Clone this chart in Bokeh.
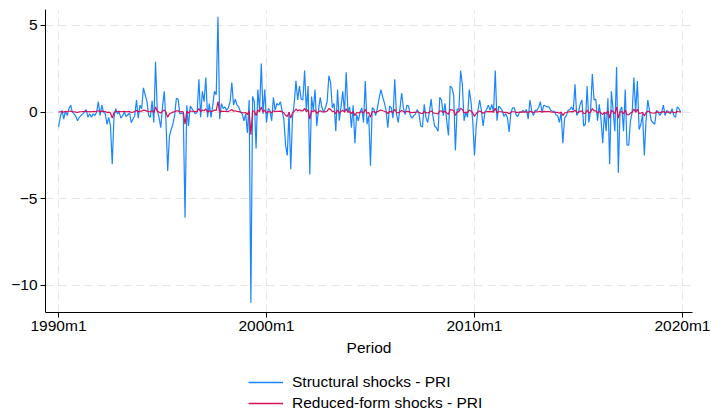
from bokeh.plotting import figure
from bokeh.models import Range1d, FixedTicker, Legend, LegendItem
from bokeh.layouts import column
from bokeh.embed import file_html
from bokeh.resources import INLINE

# Monthly shocks, 1990m1 .. 2019m12 (one row per year)
structural = [
    -0.85, -0.3, 0.1, -0.4, 0.05, -0.2, 0.2, 0.4, 0.0, -0.1, -0.25, -0.5,      # 1990
    -0.3, -0.2, -0.1, 0.0, 0.15, -0.3, -0.1, -0.3, -0.1, -0.2, 0.0, 0.6,       # 1991
    -0.2, 0.4, 0.0, -0.1, -0.7, -0.3, -0.8, -3.0, -0.3, 0.2, -0.1, 0.0,        # 1992
    -0.35, -0.2, 0.0, -0.25, -0.15, -0.05, -0.6, -0.4, -0.2, 0.7, -0.35, 0.4,  # 1993
    0.2, 1.4, 1.0, 0.65, -0.2, -0.3, 0.65, -0.6, 2.9, 0.1, -0.3, -0.9,         # 1994
    0.3, 1.2, -0.5, -3.4, -1.4, -1.0, -0.7, -0.2, 0.8, 0.75, -0.1, -0.05,      # 1995
    -0.1, -6.1, 0.4, -0.8, 0.35, 0.2, 0.05, -0.1, 0.0, 1.9, -0.3, 1.2,         # 1996
    0.6, 2.0, -0.3, 0.5, -0.3, 0.4, 1.2, 1.0, 5.5, -0.4, 0.5, 0.2,             # 1997
    0.3, 0.1, 0.25, 0.6, 1.7, 0.4, 0.75, 0.4, 0.3, 0.0, -0.1, -0.5,            # 1998
    -0.1, -1.2, 0.7, -11.0, 0.9, 0.6, -2.1, 1.3, 0.1, 2.8, -0.1, 1.3,          # 1999
    -0.6, 0.2, 0.1, -0.5, 0.85, 0.1, 0.5, 0.4, 0.6, 0.1, -0.4, -1.9,           # 2000
    -2.5, 0.0, -3.3, -0.3, 0.5, 1.8, 0.7, 1.5, 0.75, 0.7, 2.4, 0.1,            # 2001
    1.5, -3.6, 0.9, 0.1, 1.3, -0.8, 0.1, 0.85, 0.25, 0.0, 0.25, 0.6,           # 2002
    2.1, 1.7, 0.25, 0.5, -1.1, 1.3, -0.5, 0.3, 1.2, 0.0, 2.3, 0.0,             # 2003
    0.3, -0.9, 0.4, -1.8, -0.15, -0.5, 0.0, 0.25, -0.6, 1.8, -0.7, -0.2,       # 2004
    -3.1, 0.25, 0.15, -0.2, 0.25, 0.8, 1.3, 0.9, 0.55, 0.1, -0.9, 0.35,        # 2005
    0.25, -0.35, 1.9, -0.1, -0.6, 0.2, 1.1, 0.25, -0.15, 0.4, 0.35, -0.2,      # 2006
    -0.35, -0.2, -0.1, 0.15, -0.1, -0.8, -0.85, 0.45, -0.3, -0.6, 0.0, 0.75,   # 2007
    -0.2, -0.8, -0.9, -1.1, 0.85, 0.7, -0.2, 0.5, -0.5, -1.35, 1.5, 1.4,       # 2008
    1.0, -2.2, 0.2, 0.1, 2.4, 1.6, -0.5, 0.0, -0.3, 1.3, 0.6, -0.5,            # 2009
    -2.5, -0.8, 0.1, 0.7, 0.1, -0.8, 0.0, 0.15, 0.4, 0.1, 0.45, 0.0,           # 2010
    2.4, -0.5, 0.35, 0.25, 0.1, -0.25, -0.1, -0.3, -1.15, -0.05, 0.25, 0.25,   # 2011
    -0.15, -0.25, 0.0, 0.0, 0.1, 0.0, 0.15, -0.4, 0.7, 0.1, -0.2, 0.1,         # 2012
    0.1, 0.25, 0.6, 0.0, 0.4, 0.35, 0.3, 0.3, 0.1, 0.05, 0.05, -0.15,          # 2013
    -0.2, -0.6, 0.0, -1.8, -0.35, -0.2, 0.1, 0.15, 0.3, 0.1, 1.6, -0.2,        # 2014
    0.0, 0.45, 0.7, -0.8, -0.7, 1.5, -0.6, 0.1, 2.2, 0.7, 0.75, -0.5,          # 2015
    0.45, -0.4, -1.8, 0.0, -1.1, 0.8, -3.0, 1.2, 0.1, -1.1, 2.6, -3.5,         # 2016
    0.1, 0.3, -1.1, 1.3, -1.9, -1.9, -0.5, 0.0, 2.0, 0.0, 1.8, -1.0,           # 2017
    -0.7, -0.1, -2.5, -0.5, 0.7, 0.1, -0.5, -0.6, -0.7, 0.1, 0.0, -0.2,        # 2018
    0.0, 0.4, -0.2, 0.1, 0.0, -0.1, 0.2, -0.2, -0.3, 0.3, 0.2, 0.0,            # 2019
]

reduced_form = [
    0.0, 0.02, 0.03, 0.0, 0.04, 0.02, 0.05, 0.06, 0.03, 0.02, 0.0, -0.02,        # 1990
    0.01, 0.02, 0.03, 0.04, 0.05, 0.02, 0.03, 0.02, 0.04, 0.03, 0.05, 0.08,      # 1991
    0.03, 0.06, 0.04, 0.03, -0.02, 0.0, -0.05, -0.35, -0.05, 0.05, 0.03, 0.04,   # 1992
    0.02, 0.03, 0.04, 0.02, 0.03, 0.04, -0.02, 0.0, 0.03, 0.1, 0.02, 0.06,       # 1993
    0.05, 0.12, 0.1, 0.06, 0.03, 0.02, 0.08, -0.02, 0.3, 0.05, 0.0, -0.05,       # 1994
    0.06, 0.12, 0.0, -0.3, -0.1, -0.05, 0.0, 0.03, 0.08, 0.07, 0.02, 0.03,       # 1995
    0.02, -0.7, 0.05, -0.05, 0.06, 0.05, 0.04, 0.03, 0.04, 0.2, 0.02, 0.12,      # 1996
    0.08, 0.18, 0.0, 0.07, 0.02, 0.06, 0.12, 0.1, 0.6, 0.0, 0.06, 0.04,          # 1997
    0.05, 0.03, 0.04, 0.08, 0.15, 0.05, 0.08, 0.04, 0.03, 0.0, -0.02, -0.05,     # 1998
    -0.02, -0.15, 0.06, -1.3, 0.08, 0.05, -0.2, 0.12, 0.02, 0.3, 0.0, 0.12,      # 1999
    -0.06, 0.03, 0.02, -0.05, 0.08, 0.02, 0.05, 0.04, 0.06, 0.02, -0.04, -0.18,  # 2000
    -0.25, 0.0, -0.35, -0.04, 0.05, 0.18, 0.07, 0.14, 0.07, 0.07, 0.22, 0.02,    # 2001
    0.14, -0.4, 0.09, 0.02, 0.12, -0.08, 0.02, 0.08, 0.03, 0.01, 0.03, 0.06,     # 2002
    0.2, 0.16, 0.03, 0.05, -0.1, 0.12, -0.05, 0.03, 0.11, 0.0, 0.2, 0.0,         # 2003
    0.03, -0.08, 0.04, -0.2, -0.02, -0.05, 0.0, 0.03, -0.06, 0.16, -0.07, -0.02, # 2004
    -0.3, 0.03, 0.02, -0.02, 0.03, 0.07, 0.12, 0.08, 0.05, 0.01, -0.08, 0.04,    # 2005
    0.03, -0.03, 0.17, -0.01, -0.05, 0.02, 0.1, 0.03, -0.01, 0.04, 0.03, -0.02,  # 2006
    -0.03, -0.02, -0.01, 0.02, -0.01, -0.07, -0.08, 0.04, -0.03, -0.05, 0.0, 0.07,  # 2007
    -0.02, -0.07, -0.08, -0.1, 0.08, 0.06, -0.02, 0.05, -0.05, -0.12, 0.14, 0.13,   # 2008
    0.09, -0.2, 0.02, 0.01, 0.22, 0.15, -0.05, 0.0, -0.03, 0.12, 0.06, -0.05,    # 2009
    -0.25, -0.08, 0.01, 0.06, 0.01, -0.07, 0.0, 0.02, 0.04, 0.01, 0.04, 0.0,     # 2010
    0.22, -0.05, 0.03, 0.02, 0.01, -0.02, -0.01, -0.03, -0.1, 0.0, 0.02, 0.02,   # 2011
    -0.01, -0.02, 0.0, 0.0, 0.01, 0.0, 0.02, -0.04, 0.06, 0.01, -0.02, 0.01,     # 2012
    0.01, 0.02, 0.05, 0.0, 0.04, 0.03, 0.03, 0.03, 0.01, 0.0, 0.0, -0.01,        # 2013
    -0.02, -0.06, 0.0, -0.2, -0.04, -0.02, 0.01, 0.02, 0.03, 0.01, 0.12, -0.02,  # 2014
    0.0, 0.04, 0.07, -0.08, -0.07, 0.12, -0.06, 0.01, 0.2, 0.07, 0.07, -0.05,    # 2015
    0.04, -0.04, -0.15, 0.0, -0.1, 0.07, -0.35, 0.12, 0.01, -0.1, 0.3, -0.35,    # 2016
    0.02, 0.03, -0.1, 0.12, -0.15, -0.16, -0.05, 0.0, 0.18, 0.0, 0.16, -0.08,    # 2017
    -0.06, -0.01, -0.22, -0.04, 0.06, 0.01, -0.04, -0.05, -0.06, 0.01, 0.0, -0.02,  # 2018
    0.0, 0.03, -0.02, 0.01, 0.0, -0.01, 0.02, -0.02, -0.03, 0.03, 0.02, 0.0,     # 2019
]

# months since 1990m1
months = list(range(len(structural)))

x_tick_pos = [0, 120, 240, 360]
x_tick_labels = ["1990m1", "2000m1", "2010m1", "2020m1"]
y_tick_pos = [-10, -5, 0, 5]

series_labels = ["Structural shocks - PRI", "Reduced-form shocks - PRI"]
series_colors = ["#1a85ff", "#d41159"]

FONT = "Liberation Sans"
FSIZE = "15.5px"

# ---- main chart ----
p = figure(width=711, height=362, output_backend="svg", toolbar_location=None,
           x_range=Range1d(-7.5, 365.8), y_range=Range1d(-11.56, 5.92),
           min_border_left=45, min_border_right=19, min_border_top=9,
           min_border_bottom=50)
p.outline_line_color = None
p.background_fill_color = "white"
p.border_fill_color = "white"

r1 = p.line(months, structural, line_color=series_colors[0], line_width=1.2)
r2 = p.line(months, reduced_form, line_color=series_colors[1], line_width=1.2)

p.xaxis.ticker = FixedTicker(ticks=x_tick_pos)
p.xaxis.major_label_overrides = {t: l for t, l in zip(x_tick_pos, x_tick_labels)}
p.yaxis.ticker = FixedTicker(ticks=y_tick_pos)
p.xaxis.axis_label = "Period"

for ax in (p.xaxis, p.yaxis):
    ax.major_label_text_font = FONT
    ax.major_label_text_font_size = FSIZE
    ax.major_label_text_color = "#000000"
    ax.axis_label_text_font = FONT
    ax.axis_label_text_font_size = FSIZE
    ax.axis_label_text_font_style = "normal"
    ax.axis_label_text_color = "#000000"
    ax.minor_tick_line_color = None
    ax.major_tick_in = 0
    ax.major_tick_out = 5
    ax.axis_line_color = "#000000"
    ax.major_tick_line_color = "#000000"
p.xaxis.major_label_standoff = -1
p.xaxis.axis_label_standoff = 2
p.yaxis.major_label_standoff = 3

p.xgrid.ticker = FixedTicker(ticks=x_tick_pos)
p.ygrid.ticker = FixedTicker(ticks=y_tick_pos)
for g in (p.xgrid, p.ygrid):
    g.grid_line_color = "#e6e6e6"
    g.grid_line_dash = "8 5"
    g.grid_line_width = 1

# ---- legend strip below the chart ----
lg = figure(width=711, height=52, output_backend="svg", toolbar_location=None,
            x_range=Range1d(0, 1), y_range=Range1d(0, 1),
            x_axis_type=None, y_axis_type=None, min_border=0)
lg.outline_line_color = None
lg.grid.visible = False
lg.border_fill_color = "white"
nan = float("nan")
k1 = lg.line([nan], [nan], line_color=series_colors[0], line_width=1.5)
k2 = lg.line([nan], [nan], line_color=series_colors[1], line_width=1.5)

legend = Legend(items=[LegendItem(label=series_labels[0], renderers=[k1]),
                       LegendItem(label=series_labels[1], renderers=[k2])],
                location=(203, 2), orientation="vertical",
                glyph_width=35, glyph_height=18, label_height=18,
                label_standoff=9, spacing=3, padding=0, margin=0,
                border_line_color=None, background_fill_alpha=0,
                label_text_font=FONT, label_text_font_size=FSIZE,
                label_text_color="#000000")
lg.add_layout(legend, "center")

layout = column(p, lg, spacing=0)
open("out.html", "w").write(file_html(layout, INLINE))
